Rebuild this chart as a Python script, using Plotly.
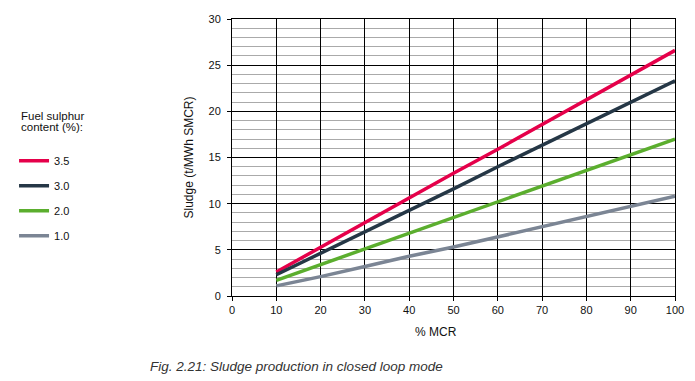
import plotly.graph_objects as go

mcr = [10, 20, 30, 40, 50, 60, 70, 80, 90, 100]
s35 = [2.6, 5.3, 7.9, 10.6, 13.3, 15.9, 18.6, 21.3, 23.9, 26.6]
s30 = [2.3, 4.6, 7.0, 9.3, 11.6, 14.0, 16.3, 18.6, 21.0, 23.3]
s20 = [1.7, 3.4, 5.1, 6.8, 8.5, 10.2, 11.9, 13.6, 15.3, 17.0]
s10 = [1.1, 2.1, 3.2, 4.3, 5.3, 6.4, 7.5, 8.6, 9.7, 10.8]
names = ["3.5", "3.0", "2.0", "1.0"]
colors = ["#E5004A", "#253746", "#5BAE2E", "#7B8594"]
legend_title = ["Fuel sulphur", "content (%):"]

fig = go.Figure()
for i, (n, ys, c) in enumerate(zip(names, [s35, s30, s20, s10], colors)):
    fig.add_trace(go.Scatter(x=mcr, y=ys, mode="lines", name=n, legendgroup=n,
                             line=dict(color=c, width=3.5)))

font = "Liberation Sans, Arial, sans-serif"
fig.update_layout(
    width=695, height=381, autosize=False,
    margin=dict(l=232, r=11, t=19, b=85),
    paper_bgcolor="white", plot_bgcolor="white",
    font=dict(family=font, size=11, color="#111"),
    showlegend=True,
    legend=dict(
        x=-0.492, xanchor="left", y=0.541, yanchor="top",
        tracegroupgap=6, font=dict(size=11),
        bgcolor="rgba(0,0,0,0)",
    ),
    xaxis=dict(
        range=[0, 100], dtick=10, tick0=0,
        showgrid=True, gridcolor="black", gridwidth=1,
        showline=True, linecolor="black", linewidth=1, mirror=True,
        ticks="outside", ticklen=4, tickcolor="black",
        zeroline=False,
    ),
    yaxis=dict(
        range=[0, 30], dtick=5, tick0=0,
        showgrid=True, gridcolor="black", gridwidth=1,
        minor=dict(dtick=1, showgrid=True, gridcolor="#AAAAAA", gridwidth=1),
        showline=True, linecolor="black", linewidth=1, mirror=True,
        ticks="outside", ticklen=4, tickcolor="black",
        ticklabelstandoff=4,
        zeroline=False,
        title=dict(text="Sludge (t/MWh SMCR)", font=dict(size=12), standoff=12),
    ),
)
for j, line in enumerate(legend_title):
    fig.add_annotation(
        text=line, xref="paper", yref="paper",
        x=-0.481, y=(296 - 116 - 11 * j) / 277, xanchor="left", yanchor="middle",
        align="left", showarrow=False, font=dict(size=11.5, color="#111"),
    )
fig.add_annotation(
    text="% MCR", xref="paper", yref="paper",
    x=0.461, y=-0.13, xanchor="center", yanchor="middle",
    showarrow=False, font=dict(size=12, color="#111"),
)
fig.add_annotation(
    text="<i>Fig. 2.21: Sludge production in closed loop mode</i>",
    xref="paper", yref="paper", x=-0.189, y=-0.256, xanchor="left", yanchor="middle",
    showarrow=False, font=dict(size=13.5, color="#333"),
)
fig.write_html(
    "out.html",
    config={"displayModeBar": False},
    post_script=("document.documentElement.style.overflow='hidden';"
                 "document.body.style.margin='0';"
                 "document.body.style.overflow='hidden';"),
)
